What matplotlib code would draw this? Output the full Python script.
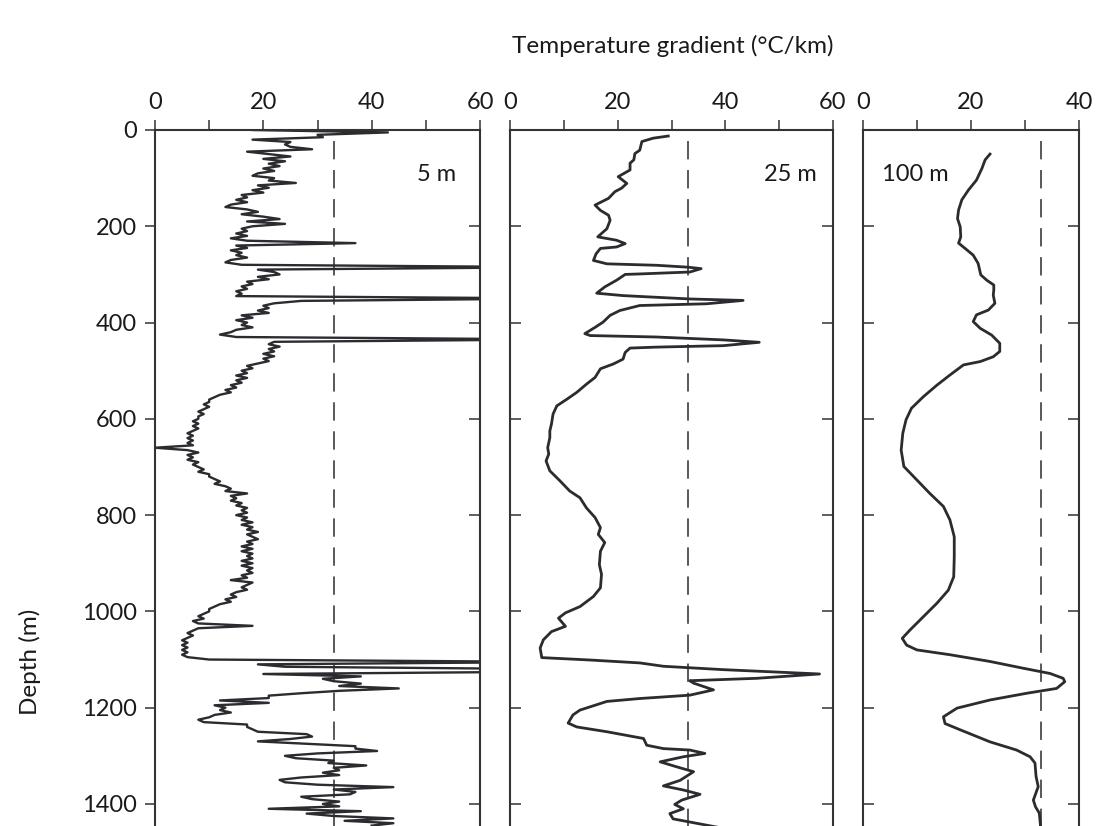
import numpy as np
import matplotlib
matplotlib.use("Agg")
import matplotlib.pyplot as plt
from matplotlib.ticker import MultipleLocator, FixedLocator

plt.rcParams['font.family'] = ['Lato', 'DejaVu Sans']

# ---------------- data ----------------
# 5 m window (sampled every 5 m)
depth_5m = np.arange(0, 1450, 5)
grad_5m = [
    18, 43, 30, 31, 18, 25, 24, 25, 29, 17,
    21, 25, 20, 24, 21, 23, 20, 22, 19, 18,
    22, 21, 26, 19, 21, 18, 20, 16, 17, 15,
    17, 14, 13, 17, 19, 16, 20, 23, 17, 24,
    18, 16, 17, 15, 17, 14, 17, 37, 15, 17,
    14, 16, 15, 17, 14, 13, 16, 75, 19, 22,
    23, 19, 21, 17, 18, 16, 17, 15, 16, 15,
    75, 27, 22, 20, 21, 19, 21, 16, 18, 15,
    17, 16, 18, 15, 14, 12, 15, 75, 22, 21,
    23, 21, 22, 20, 22, 20, 21, 19, 17, 18,
    16, 17, 15, 17, 15, 16, 14, 15, 13, 14,
    12, 11, 10, 10, 9, 10, 9, 8, 9, 8,
    8, 7, 8, 7, 8, 7, 6, 7, 6, 7,
    6, 7, 0, 6, 8, 6, 7, 6, 8, 7,
    8, 9, 8, 10, 10, 11, 12, 11, 13, 14,
    13, 17, 14, 15, 14, 16, 15, 17, 16, 17,
    15, 17, 16, 18, 16, 18, 17, 19, 17, 18,
    19, 17, 18, 16, 18, 16, 18, 17, 18, 16,
    18, 16, 18, 17, 18, 16, 17, 14, 18, 17,
    16, 17, 15, 14, 15, 13, 14, 12, 11, 10,
    10, 9, 8, 9, 7, 8, 18, 8, 7, 6,
    7, 6, 5, 6, 5, 6, 5, 6, 5, 6,
    10, 75, 19, 24, 75, 75, 20, 38, 31, 33,
    38, 34, 45, 34, 27, 21, 21, 12, 21, 11,
    13, 12, 14, 11, 10, 8, 9, 17, 17, 18,
    19, 28, 29, 25, 19, 28, 37, 37, 41, 30,
    24, 26, 33, 32, 39, 33, 34, 31, 34, 27,
    23, 24, 30, 44, 33, 37, 36, 27, 29, 34,
    31, 34, 21, 38, 28, 33, 44, 35, 44, 40,
]

# 25 m window
depth_25m = [12.5, 17, 24, 42, 49, 62, 69, 83, 97, 111, 121, 128, 142, 156, 167,
             177, 187.5, 205, 222, 229, 236, 243, 246, 257, 271, 278, 281, 285, 288,
             295, 299, 300, 312, 326, 339, 344, 351, 354, 361, 364.6, 375, 385, 399,
             410, 423, 427, 430, 436, 441, 448, 451, 453, 462, 476, 486, 496, 514,
             528, 545, 559, 573, 590, 611, 625, 639, 660, 673, 687.5, 708, 729, 750,
             764, 785, 805, 826, 840, 857, 875, 903, 923, 951, 969, 990, 1003, 1014,
             1031, 1042, 1059, 1076, 1096, 1101, 1107, 1114, 1121, 1130, 1139, 1144,
             1149, 1163, 1174, 1181, 1187, 1205, 1215, 1232, 1240, 1250, 1264, 1278,
             1285, 1288, 1295, 1302, 1312.5, 1323, 1333, 1351, 1362.5, 1371, 1380,
             1392, 1401, 1410, 1420, 1431, 1437.5, 1448]
grad_25m = [29.4, 26.6, 24.5, 24.1, 23.2, 23.0, 22.3, 22.3, 20.1, 21.7, 20.7, 19.5,
            18.3, 15.8, 16.8, 18.3, 18.6, 18.0, 16.3, 19.8, 21.4, 19.8, 16.8, 16.0,
            15.5, 18.0, 27.2, 33.1, 35.5, 33.4, 24.1, 21.4, 19.8, 17.6, 16.1, 21.0,
            33.4, 43.3, 36.5, 24.1, 20.4, 18.6, 17.3, 15.8, 13.9, 14.9, 27.2, 39.6,
            46.3, 39.6, 27.2, 22.3, 21.4, 21.0, 19.2, 16.8, 15.8, 14.2, 12.4, 10.6,
            8.7, 8.0, 7.7, 7.4, 7.4, 7.0, 7.2, 6.7, 7.4, 9.3, 11.1, 13.0, 14.2, 15.8,
            16.8, 16.4, 17.6, 16.8, 16.6, 17.0, 16.8, 15.5, 13.0, 10.3, 9.0, 10.3,
            7.7, 6.2, 5.6, 5.9, 14.9, 24.1, 28.5, 39.6, 57.5, 45.8, 33.4, 34.1, 37.8,
            33.4, 24.1, 18.0, 13.0, 11.7, 10.8, 12.4, 18.0, 24.8, 25.4, 28.5, 33.4,
            36.2, 32.2, 27.9, 31.0, 34.1, 31.6, 28.5, 32.2, 35.3, 31.9, 30.6, 32.2,
            29.7, 30.3, 33.4, 38.4]

# 100 m window
depth_100m = [50, 62, 80, 104, 125, 145, 166, 184, 201, 222, 235, 246, 260, 277, 301,
              312, 322, 332, 343, 360, 374, 384, 398, 412, 426, 443, 460, 471, 481,
              488, 509, 530, 554, 578, 602, 630, 665, 699, 727, 755, 782, 810, 845,
              887, 928, 956, 983, 1011, 1039, 1056, 1070, 1080, 1090, 1104, 1118,
              1129, 1139, 1146, 1160, 1170, 1184, 1201, 1219, 1233, 1246, 1271, 1288,
              1302, 1315, 1343, 1364, 1392, 1406, 1419, 1443, 1450]
grad_100m = [23.5, 22.6, 22.0, 21.0, 19.5, 18.3, 17.7, 17.5, 18.0, 18.1, 17.7, 18.9,
             20.4, 21.3, 21.8, 22.9, 24.2, 24.2, 24.1, 24.4, 23.2, 21.0, 20.4, 21.7,
             23.8, 25.3, 25.3, 24.1, 21.7, 18.6, 16.1, 13.7, 11.2, 9.0, 8.0, 7.4, 7.1,
             7.6, 10.0, 12.4, 14.9, 16.1, 16.9, 16.9, 16.8, 15.8, 13.7, 11.2, 8.7,
             7.3, 8.1, 10.0, 16.1, 23.5, 29.6, 34.6, 37.0, 37.3, 35.8, 30.3, 23.5,
             17.4, 14.9, 15.2, 18.0, 23.5, 28.4, 30.9, 31.8, 32.0, 32.4, 31.5, 31.9,
             32.6, 32.8, 32.8]

reference_gradient = 33
panel_labels = ["5 m", "25 m", "100 m"]
x_limits = [60, 60, 40]
x_major = [[0, 20, 40, 60], [0, 20, 40, 60], [0, 20, 40]]
depth_ticks = [0, 200, 400, 600, 800, 1000, 1200, 1400]

# ---------------- layout ----------------
W, H = 1100, 826
fig = plt.figure(figsize=(W / 100, H / 100), dpi=100)

line_col = '#2b2b30'
spine_col = '#333333'
lefts_px = [155, 510, 862.7]
widths_px = [325, 323, 216.7]
top_px = 130
px_per_m = 0.4814
ymax = 1500
bottom_px = top_px + ymax * px_per_m

series = [(depth_5m, grad_5m, 1.7), (depth_25m, grad_25m, 2.0), (depth_100m, grad_100m, 2.0)]
label_pos = [(52, 93), (52, 93), (9.7, 93)]

for i in range(3):
    rect = [lefts_px[i] / W, (H - bottom_px) / H, widths_px[i] / W, (bottom_px - top_px) / H]
    ax = fig.add_axes(rect)
    d, g, lw = series[i]
    ax.plot(g, d, color=line_col, lw=lw, solid_joinstyle='round')
    ax.axvline(reference_gradient, color=line_col, lw=1.1, ls=(0, (12, 7)))
    ax.set_xlim(0, x_limits[i])
    ax.set_ylim(ymax, 0)

    for s in ['left', 'right', 'top']:
        ax.spines[s].set_color(spine_col)
        ax.spines[s].set_linewidth(1.5)
    ax.spines['bottom'].set_visible(False)

    ax.xaxis.tick_top()
    ax.xaxis.set_major_locator(FixedLocator(x_major[i]))
    ax.xaxis.set_minor_locator(MultipleLocator(10))
    ax.tick_params(axis='x', which='both', direction='out', length=7, width=1.1,
                   color=spine_col, labelsize=17, pad=5, bottom=False, top=True,
                   labelcolor='#1a1a1a')

    ax.yaxis.set_major_locator(FixedLocator(depth_ticks))
    if i == 0:
        ax.tick_params(axis='y', which='both', direction='out', length=7, width=1.1,
                       color=spine_col, labelsize=17, pad=6, left=True, right=False,
                       labelcolor='#1a1a1a')
    else:
        ax.tick_params(axis='y', which='both', direction='in', length=8, width=1.1,
                       color=spine_col, left=True, right=False, labelleft=False)
    sec = ax.secondary_yaxis('right')
    sec.yaxis.set_major_locator(FixedLocator(depth_ticks))
    sec.tick_params(axis='y', direction='in', length=8, width=1.1, color=spine_col,
                    labelright=False)
    sec.spines['right'].set_visible(False)

    ax.text(label_pos[i][0], label_pos[i][1], panel_labels[i], ha='center', va='center',
            fontsize=17, color='#1a1a1a')

fig.text(673 / W, 1 - 46 / H, "Temperature gradient (°C/km)", ha='center', va='center',
         fontsize=17.5, color='#1a1a1a')
fig.text(30 / W, 1 - 662 / H, "Depth (m)", rotation=90, ha='center', va='center',
         fontsize=17.5, color='#1a1a1a')

fig.savefig("out.png", dpi=100)
